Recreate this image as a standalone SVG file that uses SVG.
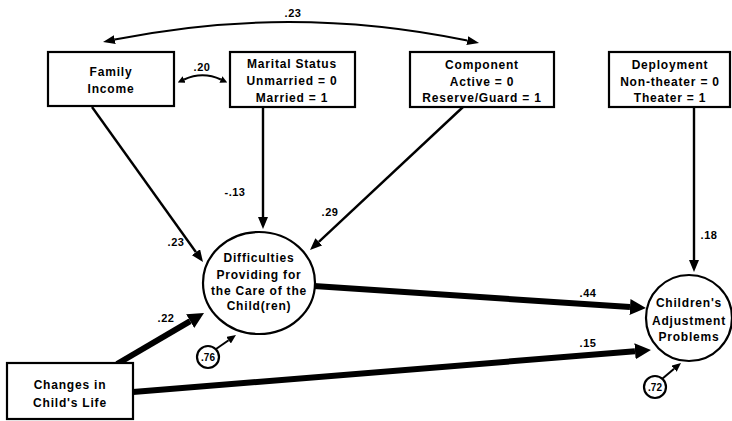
<svg xmlns="http://www.w3.org/2000/svg" width="732" height="421" viewBox="0 0 732 421">
<style>
  .box { fill: #fff; stroke: #000; stroke-width: 2.2; }
  .node { fill: #fff; stroke: #000; stroke-width: 2.2; }
  .t { font-family: "Liberation Sans", Arial, sans-serif; font-weight: bold; font-size: 12px; letter-spacing: 0.8px; text-anchor: middle; fill: #000; }
  .lbl { font-family: "Liberation Sans", Arial, sans-serif; font-weight: bold; font-size: 11px; letter-spacing: 0.5px; text-anchor: middle; fill: #000; }
  .thin { fill: none; stroke: #000; stroke-width: 2.4; marker-end: url(#ah); }
  .thick { fill: none; stroke: #000; stroke-width: 6; marker-end: url(#ahb); }
  .err { fill: none; stroke: #000; stroke-width: 2; marker-end: url(#ahs); }
  .cov { fill: none; stroke: #000; stroke-width: 2; marker-start: url(#ah2); marker-end: url(#ah2); }
  .cov2 { fill: none; stroke: #000; stroke-width: 2; marker-start: url(#ah3); marker-end: url(#ah3); }
</style>
<defs>
  <marker id="ah" markerUnits="userSpaceOnUse" markerWidth="12" markerHeight="10" refX="0" refY="5" orient="auto">
    <path d="M0,0 L12,5 L0,10 z" fill="#000"/>
  </marker>
  <marker id="ahb" markerUnits="userSpaceOnUse" markerWidth="16" markerHeight="16" refX="0" refY="8" orient="auto">
    <path d="M0,0 L16,8 L0,16 z" fill="#000"/>
  </marker>
  <marker id="ahs" markerUnits="userSpaceOnUse" markerWidth="9" markerHeight="8" refX="0" refY="4" orient="auto">
    <path d="M0,0 L9,4 L0,8 z" fill="#000"/>
  </marker>
  <marker id="ah2" markerUnits="userSpaceOnUse" markerWidth="12" markerHeight="9" refX="0" refY="4.5" orient="auto-start-reverse">
    <path d="M0,0 L12,4.5 L0,9 z" fill="#000"/>
  </marker>
  <marker id="ah3" markerUnits="userSpaceOnUse" markerWidth="7" markerHeight="7" refX="0" refY="3.5" orient="auto-start-reverse">
    <path d="M0,0 L7,3.5 L0,7 z" fill="#000"/>
  </marker>
</defs>
<rect width="732" height="421" fill="#fff"/>

<g id="connectors">
  <path class="cov" d="M114.8,39.6 Q291,4 467.3,40.6"/>
  <path class="cov2" d="M184.1,79.5 Q202.5,71 220.9,79.5"/>
  <path class="thin" d="M92,107 L196,252.2"/>
  <path class="thin" d="M263,107 L263,217"/>
  <path class="thin" d="M463,107 L318.8,241.8"/>
  <path class="thin" d="M694,107 L694,260"/>
  <path class="thick" d="M314,286 L630,307"/>
  <path class="thick" d="M133,392 L635,351.3"/>
  <path class="thick" d="M117,364 L190.2,321.1"/>
  <path class="err" d="M216,349 L228.6,340.2"/>
  <path class="err" d="M662,379 L674.1,368.8"/>
  <text class="lbl" x="293" y="17">.23</text>
  <text class="lbl" x="202" y="71">.20</text>
  <text class="lbl" x="235" y="196">-.13</text>
  <text class="lbl" x="176" y="246">.23</text>
  <text class="lbl" x="330" y="216">.29</text>
  <text class="lbl" x="166" y="322">.22</text>
  <text class="lbl" x="588" y="297">.44</text>
  <text class="lbl" x="588" y="347">.15</text>
  <text class="lbl" x="709" y="239">.18</text>
</g>

<g id="family-income">
  <rect class="box" x="48" y="52" width="126" height="54"/>
  <text class="t" x="111" y="76">Family</text>
  <text class="t" x="111" y="93">Income</text>
</g>
<g id="marital-status">
  <rect class="box" x="230" y="52" width="125" height="55"/>
  <text class="t" x="292" y="68">Marital Status</text>
  <text class="t" x="292" y="85">Unmarried = 0</text>
  <text class="t" x="292" y="102">Married = 1</text>
</g>
<g id="component">
  <rect class="box" x="410" y="52" width="144" height="55"/>
  <text class="t" x="482" y="69">Component</text>
  <text class="t" x="482" y="86">Active = 0</text>
  <text class="t" x="482" y="102">Reserve/Guard = 1</text>
</g>
<g id="deployment">
  <rect class="box" x="609" y="52" width="121" height="55"/>
  <text class="t" x="670" y="69">Deployment</text>
  <text class="t" x="670" y="86">Non-theater = 0</text>
  <text class="t" x="670" y="102">Theater = 1</text>
</g>
<g id="changes">
  <rect class="box" x="7" y="363" width="126" height="56"/>
  <text class="t" x="70" y="389">Changes in</text>
  <text class="t" x="70" y="407">Child's Life</text>
</g>
<g id="difficulties">
  <ellipse class="node" cx="259" cy="283" rx="56" ry="51"/>
  <text class="t" x="259" y="262">Difficulties</text>
  <text class="t" x="259" y="279">Providing for</text>
  <text class="t" x="259" y="295">the Care of the</text>
  <text class="t" x="259" y="310">Child(ren)</text>
</g>
<g id="adjustment">
  <circle class="node" cx="689" cy="318" r="43"/>
  <text class="t" x="689" y="307">Children's</text>
  <text class="t" x="689" y="325">Adjustment</text>
  <text class="t" x="689" y="341">Problems</text>
</g>
<g id="err-76">
  <circle class="node" cx="208" cy="357" r="11"/>
  <text class="lbl" x="208" y="361" style="font-size:10px;letter-spacing:0">.76</text>
</g>
<g id="err-72">
  <circle class="node" cx="655" cy="387" r="11"/>
  <text class="lbl" x="655" y="391" style="font-size:10px;letter-spacing:0">.72</text>
</g>
</svg>
